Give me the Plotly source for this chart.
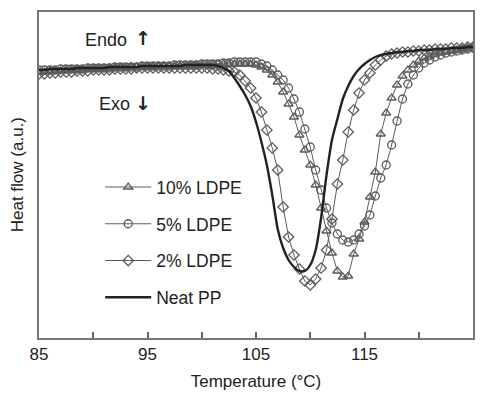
import plotly.graph_objects as go

# Temperature grid (°C)
temperature = [85, 85.5, 86, 86.5, 87, 87.5, 88, 88.5, 89, 89.5, 90, 90.5, 91, 91.5, 92, 92.5,
               93, 93.5, 94, 94.5, 95, 95.5, 96, 96.5, 97, 97.5, 98, 98.5, 99, 99.5, 100, 100.5,
               101, 101.5, 102, 102.5, 103, 103.5, 104, 104.5, 105, 105.5, 106, 106.5, 107, 107.5,
               108, 108.5, 109, 109.5, 110, 110.5, 111, 111.5, 112, 112.5, 113, 113.5, 114, 114.5,
               115, 115.5, 116, 116.5, 117, 117.5, 118, 118.5, 119, 119.5, 120, 120.5, 121, 121.5,
               122, 122.5, 123, 123.5, 124, 124.5, 125]

# Heat flow (a.u.)
ldpe10 = [-2, -2, -1, -1, -1, 0, 0, 0, 0, 1, 1, 1, 1, 2, 2, 2,
          2, 3, 3, 3, 3, 3, 4, 4, 4, 4, 4, 4, 5, 5, 5, 5,
          5, 6, 6, 6, 6, 6, 6, 6, 5, 3, 0, -5, -12, -22,
          -34, -47, -65, -80, -95, -115, -138, -161, -183, -201, -207, -206, -184, -169,
          -152, -127, -102, -64, -43, -28, -15, -6, 0, 5, 9, 12, 14, 16,
          17, 18, 19, 20, 21, 22, 22]

ldpe5 = [0, 0, 0, 0, 1, 1, 1, 1, 1, 2, 2, 2, 2, 2, 3, 3,
         3, 3, 3, 4, 4, 4, 4, 4, 4, 5, 5, 5, 5, 5, 6, 6,
         6, 6, 7, 7, 8, 8, 8, 8, 8, 6, 4, 0, -5, -10,
         -18, -29, -42, -59, -77, -100, -120, -138, -153, -164, -170, -172, -170, -164,
         -156, -145, -126, -108, -95, -75, -51, -29, -14, -5, 2, 7, 10, 13,
         15, 17, 18, 19, 20, 21, 22]

ldpe2 = [-4, -4, -3, -3, -2, -2, -2, -1, -1, -1, 0, 0, 0, 0, 1, 1,
         1, 1, 2, 2, 2, 2, 2, 2, 2, 2, 2, 2, 2, 2, 2, 2,
         1, 1, 0, -1, -2, -5, -11, -18, -28, -42, -60, -78, -100, -137,
         -167, -185, -199, -211, -215, -209, -198, -180, -149, -114, -90, -62, -40, -23,
         -10, -3, 5, 10, 14, 16, 17, 18, 18, 19, 19, 20, 20, 21,
         21, 21, 22, 22, 22, 23, 23]

neat_pp = [0, 0, 1, 1, 1, 1, 1, 2, 2, 2, 2, 2, 2, 3, 3, 3,
           3, 3, 3, 4, 4, 4, 4, 4, 4, 4, 4, 5, 5, 5, 5, 5,
           5, 4, 2, -1, -8, -16, -25, -36, -52, -72, -95, -125, -159, -178,
           -190, -197, -201, -201, -195, -180, -148, -105, -70, -49, -29, -16, -6, 1,
           6, 10, 13, 15, 16, 17, 18, 18, 19, 19, 20, 20, 20, 21,
           21, 21, 22, 22, 22, 23, 23]

x_tickvals = [85, 90, 95, 100, 105, 110, 115, 120, 125]
x_ticktext = ["85", "", "95", "", "105", "", "115", "", "125"]

FONT = "Liberation Sans, Arial, sans-serif"
GREY = "#5c5c5c"

fig = go.Figure()

marker_series = [
    ("10% LDPE", ldpe10, "triangle-up-open", 1),
    ("5% LDPE", ldpe5, "circle-open", 2),
    ("2% LDPE", ldpe2, "diamond-open", 3),
]
for name, vals, sym, rank in marker_series:
    fig.add_trace(go.Scatter(
        x=temperature, y=vals, name=name, mode="lines+markers",
        line=dict(color=GREY, width=1),
        marker=dict(symbol=sym, size=8, color=GREY, line=dict(width=1.3, color=GREY)),
        legendgroup=name, legendrank=rank,
    ))

fig.add_trace(go.Scatter(
    x=temperature, y=neat_pp, name="Neat PP", mode="lines",
    line=dict(color="#222222", width=2.4, shape="spline", smoothing=0.6),
    legendgroup="Neat PP", legendrank=4,
))

fig.add_annotation(x=89.05, y=30, text="Endo", showarrow=False, xanchor="left",
                   font=dict(family=FONT, size=18, color="#222"))
fig.add_annotation(x=94.6, y=32, text="<b>↑</b>", showarrow=False,
                   font=dict(family="DejaVu Sans", size=19, color="#222"))
fig.add_annotation(x=90.35, y=-34, text="Exo", showarrow=False, xanchor="left",
                   font=dict(family=FONT, size=18, color="#222"))
fig.add_annotation(x=94.6, y=-33, text="<b>↓</b>", showarrow=False,
                   font=dict(family="DejaVu Sans", size=19, color="#222"))
fig.add_annotation(x=-0.05, y=0.5, xref="paper", yref="paper", text="Heat flow (a.u.)",
                   textangle=-90, showarrow=False, xanchor="center", yanchor="middle",
                   font=dict(family=FONT, size=17, color="#222"))

fig.update_layout(
    width=487, height=397,
    margin=dict(l=39, r=14, t=12, b=59),
    paper_bgcolor="white", plot_bgcolor="white",
    font=dict(family=FONT, size=16, color="#222"),
    showlegend=True,
    legend=dict(
        x=0.141, y=0.518, xanchor="left", yanchor="top",
        bgcolor="rgba(0,0,0,0)", borderwidth=0,
        font=dict(family=FONT, size=17.5, color="#222"),
        tracegroupgap=11, itemwidth=46,
    ),
    xaxis=dict(
        range=[85, 125], tickvals=x_tickvals, ticktext=x_ticktext,
        ticks="inside", ticklen=6, tickwidth=1.5, tickcolor="#666",
        showline=True, linecolor="#777", linewidth=1.5, mirror=True,
        showgrid=False, zeroline=False, automargin=False,
        tickfont=dict(family=FONT, size=17, color="#222"),
        title=dict(text="Temperature (°C)", font=dict(family=FONT, size=17, color="#222"), standoff=12),
    ),
    yaxis=dict(
        range=[-268, 58], showticklabels=False, ticks="",
        showline=True, linecolor="#777", linewidth=1.5, mirror=True,
        showgrid=False, zeroline=False, automargin=False,
    ),
)

fig.write_html("out.html", config={"displayModeBar": False},
               post_script="document.body.style.margin='0';document.body.style.overflow='hidden';")
